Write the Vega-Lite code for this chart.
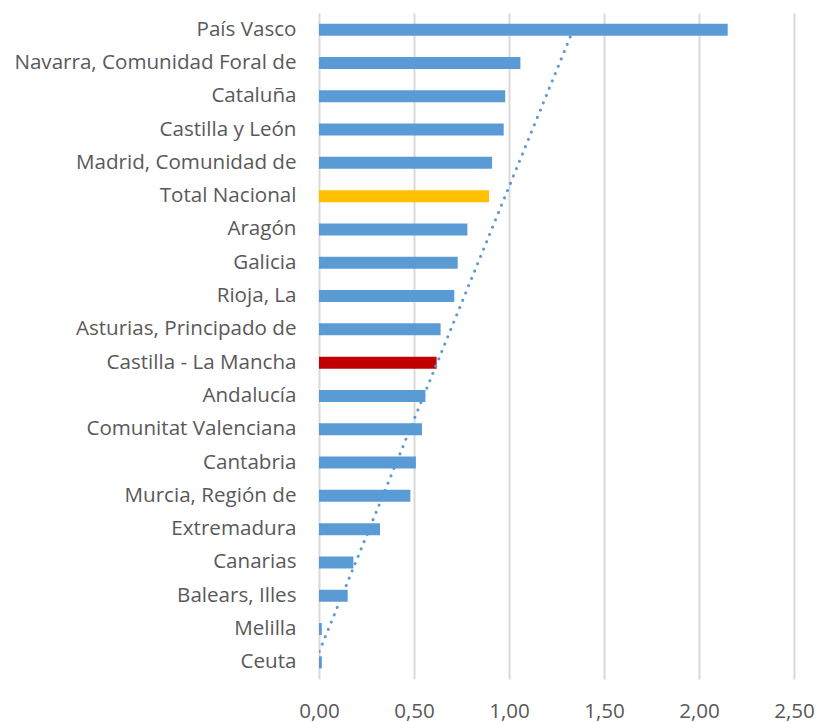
{
  "$schema": "https://vega.github.io/schema/vega-lite/v6.json",
  "autosize": "none",
  "width": 475,
  "height": 666,
  "padding": {"left": 319, "top": 13, "right": 25, "bottom": 43},
  "background": "white",
  "config": {
    "view": {"stroke": null},
    "font": "Open Sans",
    "axis": {"labelFont": "Open Sans", "labelColor": "#595959", "labelFontSize": 20.6, "ticks": false, "domain": false}
  },
  "layer": [
    {
      "data": {"values": [
        {"region": "País Vasco", "value": 2.151},
        {"region": "Navarra, Comunidad Foral de", "value": 1.06},
        {"region": "Cataluña", "value": 0.98},
        {"region": "Castilla y León", "value": 0.972},
        {"region": "Madrid, Comunidad de", "value": 0.911},
        {"region": "Total Nacional", "value": 0.895},
        {"region": "Aragón", "value": 0.781},
        {"region": "Galicia", "value": 0.73},
        {"region": "Rioja, La", "value": 0.712},
        {"region": "Asturias, Principado de", "value": 0.64},
        {"region": "Castilla - La Mancha", "value": 0.619},
        {"region": "Andalucía", "value": 0.56},
        {"region": "Comunitat Valenciana", "value": 0.542},
        {"region": "Cantabria", "value": 0.51},
        {"region": "Murcia, Región de", "value": 0.481},
        {"region": "Extremadura", "value": 0.321},
        {"region": "Canarias", "value": 0.181},
        {"region": "Balears, Illes", "value": 0.151},
        {"region": "Melilla", "value": 0.015},
        {"region": "Ceuta", "value": 0.015}
      ]},
      "mark": {"type": "bar"},
      "encoding": {
        "y": {
          "field": "region", "type": "nominal", "title": null,
          "sort": ["País Vasco", "Navarra, Comunidad Foral de", "Cataluña", "Castilla y León", "Madrid, Comunidad de", "Total Nacional", "Aragón", "Galicia", "Rioja, La", "Asturias, Principado de", "Castilla - La Mancha", "Andalucía", "Comunitat Valenciana", "Cantabria", "Murcia, Región de", "Extremadura", "Canarias", "Balears, Illes", "Melilla", "Ceuta"],
          "scale": {"paddingInner": 0.64, "paddingOuter": 0.32},
          "axis": {"grid": false, "labelPadding": 23, "labelLimit": 400}
        },
        "x": {
          "field": "value", "type": "quantitative", "title": null,
          "scale": {"domain": [0, 2.5], "nice": false},
          "axis": {
            "values": [0, 0.5, 1, 1.5, 2, 2.5],
            "labelExpr": "replace(format(datum.value, '.2f'), '.', ',')",
            "labelFlush": false,
            "grid": true, "gridColor": "#d9d9d9", "gridWidth": 2,
            "labelPadding": 22
          }
        },
        "color": {
          "condition": [
            {"test": "datum.region === 'Total Nacional'", "value": "#FFC000"},
            {"test": "datum.region === 'Castilla - La Mancha'", "value": "#C00000"}
          ],
          "value": "#5B9BD5"
        }
      }
    },
    {
      "data": {"values": [
        {"region": "Ceuta", "trend": -0.022},
        {"region": "País Vasco", "trend": 1.338}
      ]},
      "mark": {"type": "line", "clip": true, "color": "#5B9BD5", "strokeWidth": 3, "strokeCap": "round", "strokeDash": [0.1, 7.8]},
      "encoding": {
        "y": {
          "field": "region", "type": "nominal",
          "sort": ["País Vasco", "Navarra, Comunidad Foral de", "Cataluña", "Castilla y León", "Madrid, Comunidad de", "Total Nacional", "Aragón", "Galicia", "Rioja, La", "Asturias, Principado de", "Castilla - La Mancha", "Andalucía", "Comunitat Valenciana", "Cantabria", "Murcia, Región de", "Extremadura", "Canarias", "Balears, Illes", "Melilla", "Ceuta"]
        },
        "x": {"field": "trend", "type": "quantitative"}
      }
    }
  ]
}
